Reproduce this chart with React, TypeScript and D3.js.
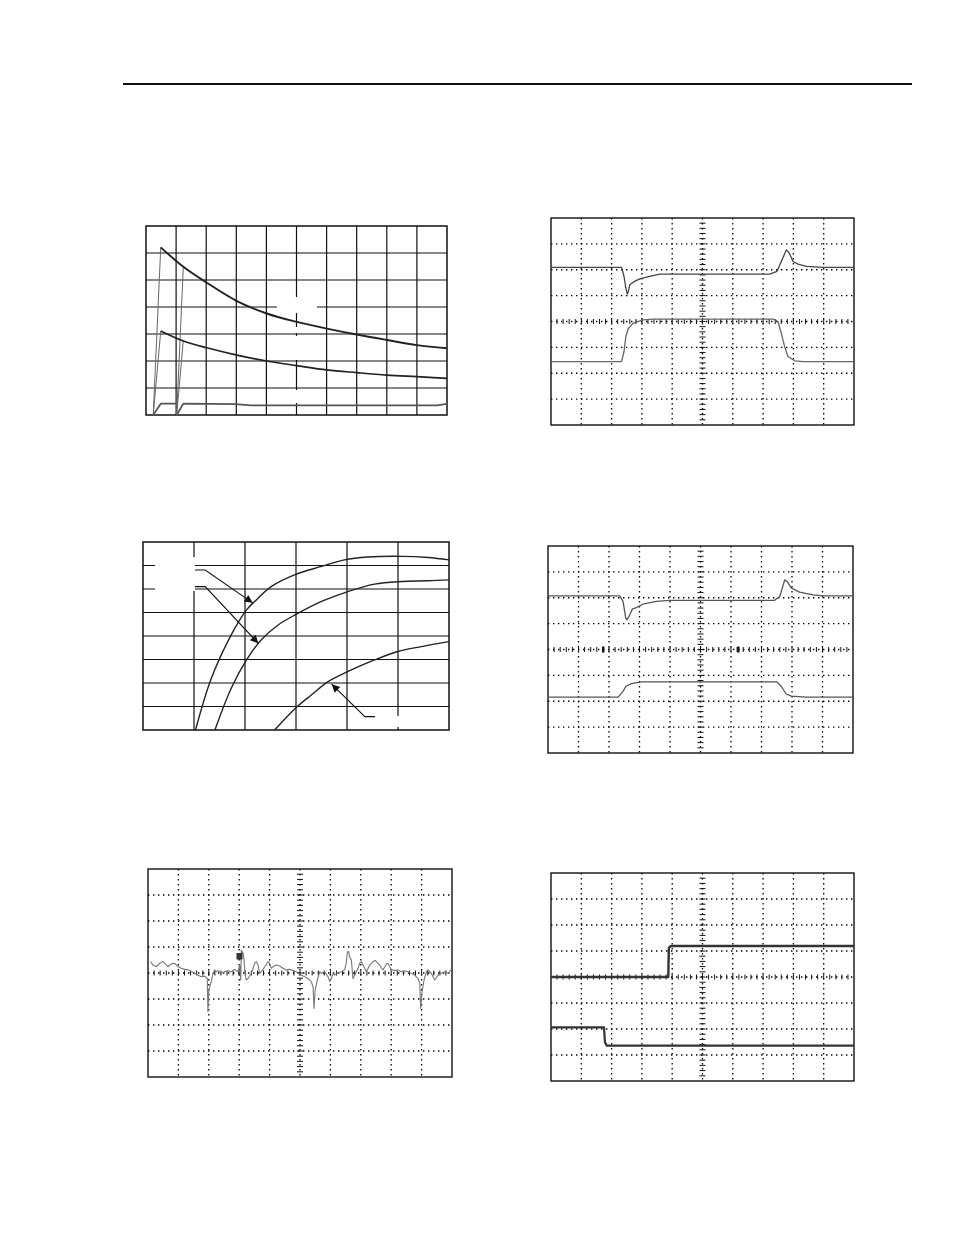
import React from 'react';
import * as d3 from 'd3';

type Pt = [number, number];

// ---- panel 1 : decay curves (10 x 7 divisions)
const p1UpperRise: Pt[] = [[0.24, 0], [0.49, 6.21]];
const p1UpperDecay: Pt[] = [[0.49, 6.21], [1.24, 5.49], [2.02, 4.9], [3.02, 4.22], [4.01, 3.76], [5.01, 3.45], [6.01, 3.2], [7.0, 2.98], [8.0, 2.78], [9.0, 2.59], [10, 2.47]];
const p1UpperSpike: Pt[] = [[1.02, 0], [1.24, 5.49]];
const p1LowerRise: Pt[] = [[0.24, 0], [0.49, 3.11]];
const p1LowerDecay: Pt[] = [[0.49, 3.11], [1.24, 2.74], [2.02, 2.49], [3.02, 2.22], [4.01, 2.0], [5.01, 1.83], [6.01, 1.67], [7.0, 1.57], [8.0, 1.48], [9.0, 1.42], [10, 1.36]];
const p1LowerSpike: Pt[] = [[1.02, 0], [1.24, 2.77]];
const p1BaseA: Pt[] = [[0.24, 0], [0.49, 0.42], [1.02, 0.42]];
const p1BaseB: Pt[] = [[1.02, 0], [1.24, 0.42], [2.98, 0.4], [3.47, 0.36], [9.67, 0.36], [10, 0.41]];

// ---- panel 3 : three rising curves (6 x 8 divisions)
const p3CurveA: Pt[] = [[1.03, 0], [1.34, 2.2], [1.73, 4.05], [2.03, 5.11], [2.19, 5.47], [2.52, 6.11], [2.97, 6.6], [3.5, 6.96], [3.95, 7.24], [4.41, 7.36], [5.07, 7.39], [5.59, 7.34], [6.0, 7.24]];
const p3CurveB: Pt[] = [[1.41, 0], [1.73, 1.78], [2.03, 2.98], [2.32, 3.84], [2.65, 4.47], [3.01, 4.93], [3.5, 5.47], [3.99, 5.87], [4.54, 6.21], [5.07, 6.32], [5.59, 6.35], [6.0, 6.39]];
const p3CurveC: Pt[] = [[2.58, 0], [3.01, 0.97], [3.3, 1.49], [3.63, 2.06], [4.02, 2.49], [4.54, 2.98], [5.0, 3.34], [5.46, 3.55], [6.0, 3.76]];
const p3Arrows: Pt[][] = [
  [[1.02, 6.81], [1.22, 6.81], [2.15, 5.41]],
  [[1.02, 6.1], [1.22, 6.1], [2.26, 3.69]],
  [[4.55, 0.57], [4.35, 0.57], [3.7, 1.95]],
];

// ---- panel 2 : scope, two traces (10 x 8 divisions)
const p2Upper: Pt[] = [[0, 6.09], [2.33, 6.09], [2.41, 5.74], [2.47, 5.29], [2.52, 5.06], [2.56, 5.19], [2.6, 5.42], [2.71, 5.52], [2.93, 5.65], [3.26, 5.74], [3.59, 5.83], [7.22, 5.83], [7.46, 5.94], [7.6, 6.32], [7.77, 6.77], [7.86, 6.65], [7.99, 6.32], [8.15, 6.22], [8.43, 6.13], [8.98, 6.09], [10, 6.09]];
const p2Lower: Pt[] = [[0, 2.45], [2.33, 2.45], [2.41, 2.84], [2.47, 3.42], [2.55, 3.72], [2.71, 3.94], [3.04, 4.06], [3.37, 4.09], [7.33, 4.09], [7.49, 4.0], [7.6, 3.55], [7.71, 3.03], [7.82, 2.65], [8.04, 2.48], [8.32, 2.45], [10, 2.45]];

// ---- panel 4 : scope, two traces
const p4Upper: Pt[] = [[0, 6.07], [2.35, 6.07], [2.46, 5.86], [2.55, 5.21], [2.59, 5.15], [2.68, 5.34], [2.77, 5.57], [2.9, 5.62], [3.11, 5.75], [3.55, 5.86], [3.99, 5.9], [7.43, 5.9], [7.6, 6.05], [7.76, 6.69], [7.84, 6.63], [7.98, 6.37], [8.25, 6.22], [8.69, 6.11], [9.02, 6.07], [10, 6.07]];
const p4Lower: Pt[] = [[0, 2.16], [2.3, 2.16], [2.46, 2.38], [2.55, 2.57], [2.73, 2.68], [3.06, 2.75], [7.51, 2.75], [7.65, 2.57], [7.81, 2.28], [7.98, 2.2], [8.47, 2.16], [10, 2.16]];
const p4Marks: number[] = [1.81, 6.24];

// ---- panel 5 : scope, noise trace
const p5Noise: Pt[] = [
  [0.09, 4.44], [0.16, 4.31], [0.27, 4.24], [0.38, 4.37], [0.49, 4.44], [0.6, 4.31], [0.66, 4.24], [0.77, 4.35], [0.88, 4.37], [0.99, 4.24],
  [1.1, 4.18], [1.21, 4.14], [1.32, 4.12], [1.43, 4.05], [1.54, 3.99], [1.64, 3.92], [1.75, 3.86], [1.86, 3.88], [1.95, 3.79], [1.97, 2.51],
  [2.0, 3.35], [2.08, 3.67], [2.14, 3.99], [2.19, 4.12], [2.25, 4.05], [2.3, 4.09], [2.41, 3.99], [2.52, 4.05], [2.63, 4.09], [2.74, 4.05],
  [2.85, 4.14], [2.96, 4.05], [3.02, 4.31], [3.05, 3.73], [3.07, 4.88], [3.13, 4.76], [3.16, 4.5], [3.18, 4.12], [3.23, 3.73], [3.29, 3.79],
  [3.4, 3.99], [3.51, 4.37], [3.56, 4.44], [3.62, 4.31], [3.67, 3.99], [3.73, 4.05], [3.84, 4.24], [3.95, 4.44], [4.0, 4.37], [4.06, 4.18],
  [4.11, 4.24], [4.22, 4.31], [4.33, 4.27], [4.44, 4.18], [4.55, 4.12], [4.66, 4.14], [4.77, 4.09], [4.88, 4.05], [4.93, 3.99], [5.04, 3.92],
  [5.15, 3.86], [5.26, 3.79], [5.37, 3.67], [5.43, 3.47], [5.46, 2.64], [5.5, 3.35], [5.57, 3.73], [5.65, 4.05], [5.7, 3.99], [5.81, 4.05],
  [5.92, 3.86], [5.98, 3.67], [6.03, 3.79], [6.09, 3.99], [6.14, 3.92], [6.25, 4.01], [6.36, 4.05], [6.47, 4.12], [6.52, 4.37], [6.56, 4.82],
  [6.6, 4.82], [6.63, 4.63], [6.69, 4.5], [6.74, 3.79], [6.8, 3.92], [6.85, 4.05], [6.91, 4.18], [6.96, 4.37], [7.02, 4.44], [7.07, 4.31],
  [7.13, 4.18], [7.18, 4.05], [7.24, 4.18], [7.29, 4.31], [7.35, 4.37], [7.4, 4.44], [7.48, 4.48], [7.54, 4.4], [7.62, 4.31], [7.68, 4.18],
  [7.73, 4.12], [7.79, 4.24], [7.84, 4.35], [7.89, 4.37], [7.95, 4.24], [8.0, 4.14], [8.11, 4.09], [8.22, 4.12], [8.33, 4.05], [8.44, 4.09],
  [8.55, 4.05], [8.66, 3.99], [8.77, 3.92], [8.88, 3.79], [8.94, 3.6], [8.97, 2.64], [9.01, 3.22], [9.08, 3.73], [9.16, 4.05], [9.21, 4.12],
  [9.32, 3.99], [9.43, 3.73], [9.54, 3.92], [9.65, 3.99], [9.76, 4.05], [9.87, 3.99], [9.98, 4.14],
];
const p5Marker: Pt[] = [[2.91, 4.77], [3.11, 4.52]];

// ---- panel 6 : scope, two step traces
const p6Upper: Pt[] = [[0, 4.0], [3.87, 4.0], [3.89, 5.12], [3.95, 5.19], [10, 5.19]];
const p6Lower: Pt[] = [[0, 2.06], [1.75, 2.06], [1.78, 1.5], [1.84, 1.36], [10, 1.36]];

interface Box { x0: number; x1: number; y0: number; y1: number; nx: number; ny: number; }

const B1: Box = { x0: 146, x1: 447, y0: 226, y1: 415, nx: 10, ny: 7 };
const B2: Box = { x0: 551, x1: 854, y0: 218, y1: 425, nx: 10, ny: 8 };
const B3: Box = { x0: 143, x1: 449, y0: 542, y1: 730, nx: 6, ny: 8 };
const B4: Box = { x0: 548, x1: 853, y0: 546, y1: 753, nx: 10, ny: 8 };
const B5: Box = { x0: 148, x1: 452, y0: 869, y1: 1077, nx: 10, ny: 8 };
const B6: Box = { x0: 551, x1: 854, y0: 873, y1: 1081, nx: 10, ny: 8 };

const scalesFor = (b: Box) => ({
  x: d3.scaleLinear().domain([0, b.nx]).range([b.x0, b.x1]),
  y: d3.scaleLinear().domain([0, b.ny]).range([b.y1, b.y0]),
});

const Trace: React.FC<{ box: Box; data: Pt[]; stroke: string; width: number; smooth?: boolean }> = ({ box, data, stroke, width, smooth }) => {
  const { x, y } = scalesFor(box);
  const line = d3.line<Pt>().x(d => x(d[0])).y(d => y(d[1]));
  if (smooth) line.curve(d3.curveCatmullRom.alpha(0.5));
  return <path d={line(data) || ''} fill="none" stroke={stroke} strokeWidth={width} strokeLinejoin="round" />;
};

const SolidGrid: React.FC<{ box: Box }> = ({ box }) => {
  const { x, y } = scalesFor(box);
  return (
    <g stroke="#111" strokeWidth={1.2}>
      {d3.range(1, box.nx).map(i => <line key={'v' + i} x1={x(i)} x2={x(i)} y1={box.y0} y2={box.y1} />)}
      {d3.range(1, box.ny).map(j => <line key={'h' + j} x1={box.x0} x2={box.x1} y1={y(j)} y2={y(j)} />)}
    </g>
  );
};

const Frame: React.FC<{ box: Box; width?: number }> = ({ box, width = 1.4 }) => (
  <rect x={box.x0} y={box.y0} width={box.x1 - box.x0} height={box.y1 - box.y0} fill="none" stroke="#111" strokeWidth={width} />
);

const ScopeGrid: React.FC<{ box: Box }> = ({ box }) => {
  const { x, y } = scalesFor(box);
  const cx = x(box.nx / 2);
  const cy = y(box.ny / 2);
  return (
    <g>
      <g stroke="#000" strokeWidth={1.3} strokeDasharray="1.4,3.6">
        {d3.range(1, box.nx).map(i => <line key={'v' + i} x1={x(i)} x2={x(i)} y1={box.y0} y2={box.y1} />)}
        {d3.range(1, box.ny).map(j => <line key={'h' + j} x1={box.x0} x2={box.x1} y1={y(j)} y2={y(j)} />)}
      </g>
      <g stroke="#111" strokeWidth={1}>
        {d3.range(1, box.nx * 5).map(k => <line key={'tx' + k} x1={x(k / 5)} x2={x(k / 5)} y1={cy - 2.5} y2={cy + 2.5} />)}
        {d3.range(1, box.ny * 5).map(k => <line key={'ty' + k} x1={cx - 3} x2={cx + 3} y1={y(k / 5)} y2={y(k / 5)} />)}
      </g>
      <Frame box={box} width={1.4} />
    </g>
  );
};

const App: React.FC = () => {
  const s3 = scalesFor(B3);
  const s4 = scalesFor(B4);
  const s5 = scalesFor(B5);
  const arrowLine = d3.line<Pt>().x(d => s3.x(d[0])).y(d => s3.y(d[1]));
  return (
    <svg width={954} height={1235} style={{ position: 'absolute', left: 0, top: 0, background: '#fff' }}>
      <defs>
        <marker id="arr" viewBox="0 0 10 10" refX={10} refY={5} markerWidth={11} markerHeight={8} markerUnits="userSpaceOnUse" orient="auto">
          <path d="M0,0 L10,5 L0,10 Z" fill="#111" />
        </marker>
      </defs>
      <rect x={0} y={0} width={954} height={1235} fill="#fff" />
      <line x1={123} x2={912} y1={84} y2={84} stroke="#111" strokeWidth={2} />

      {/* panel 1 */}
      <SolidGrid box={B1} />
      <g fill="#fff">
        <rect x={277} y={297} width={40} height={16} />
        <rect x={294} y={327} width={6} height={6} />
        <rect x={294} y={336} width={6} height={24} />
        <rect x={294} y={390} width={6} height={13} />
      </g>
      <Frame box={B1} width={1.5} />
      <Trace box={B1} data={p1BaseA} stroke="#555" width={1.8} />
      <Trace box={B1} data={p1BaseB} stroke="#555" width={1.8} />
      <Trace box={B1} data={p1UpperRise} stroke="#666" width={1} />
      <Trace box={B1} data={p1LowerRise} stroke="#666" width={1} />
      <Trace box={B1} data={p1UpperSpike} stroke="#666" width={1} />
      <Trace box={B1} data={p1LowerSpike} stroke="#666" width={1} />
      <Trace box={B1} data={p1UpperDecay} stroke="#222" width={1.9} smooth />
      <Trace box={B1} data={p1LowerDecay} stroke="#222" width={1.7} smooth />

      {/* panel 2 */}
      <ScopeGrid box={B2} />
      <Trace box={B2} data={p2Upper} stroke="#444" width={1.3} />
      <Trace box={B2} data={p2Lower} stroke="#666" width={1.3} />

      {/* panel 3 */}
      <SolidGrid box={B3} />
      <g fill="#fff">
        <rect x={155} y={557} width={40} height={34} />
        <rect x={378} y={716} width={68} height={11} />
      </g>
      <Frame box={B3} width={1.5} />
      <Trace box={B3} data={p3CurveA} stroke="#222" width={1.4} smooth />
      <Trace box={B3} data={p3CurveB} stroke="#222" width={1.4} smooth />
      <Trace box={B3} data={p3CurveC} stroke="#222" width={1.4} smooth />
      {p3Arrows.map((a, i) => (
        <path key={i} d={arrowLine(a) || ''} fill="none" stroke="#111" strokeWidth={1.1} markerEnd="url(#arr)" />
      ))}

      {/* panel 4 */}
      <ScopeGrid box={B4} />
      {p4Marks.map((m, i) => (
        <rect key={i} x={s4.x(m) - 1.2} y={s4.y(4) - 3} width={2.4} height={6} fill="#111" />
      ))}
      <Trace box={B4} data={p4Upper} stroke="#555" width={1.3} />
      <Trace box={B4} data={p4Lower} stroke="#555" width={1.3} />

      {/* panel 5 */}
      <ScopeGrid box={B5} />
      <Trace box={B5} data={p5Noise} stroke="#777" width={1.1} />
      <rect x={s5.x(p5Marker[0][0])} y={s5.y(p5Marker[0][1])} width={s5.x(p5Marker[1][0]) - s5.x(p5Marker[0][0])} height={s5.y(p5Marker[1][1]) - s5.y(p5Marker[0][1])} fill="#333" />

      {/* panel 6 */}
      <ScopeGrid box={B6} />
      <Trace box={B6} data={p6Upper} stroke="#333" width={2.4} />
      <Trace box={B6} data={p6Lower} stroke="#333" width={2.2} />
    </svg>
  );
};

export default App;
